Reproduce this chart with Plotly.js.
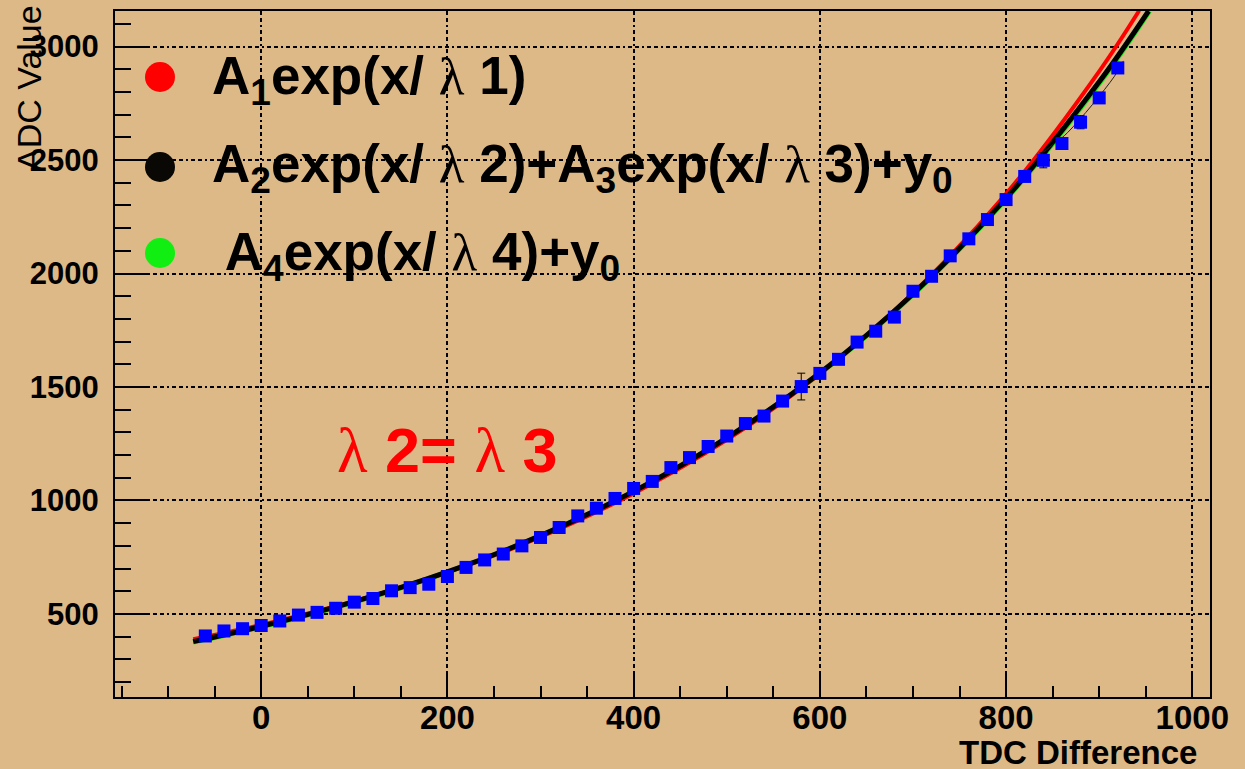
<!DOCTYPE html>
<html>
<head>
<meta charset="utf-8">
<script src="https://cdn.plot.ly/plotly-3.0.1.min.js"></script>
<style>html,body{margin:0;padding:0;background:#ddb987;}</style>
</head>
<body>
<div id="chart" style="width:1245px;height:769px;"></div>
<script>
// ---- data ----
const tdc = [-60,-40,-20,0,20,40,60,80,100,120,140,160,180,200,220,240,260,280,300,320,
             340,360,380,400,420,440,460,480,500,520,540,560,580,600,620,640,660,680,700,720,
             740,760,780,800,820,840,860,880,900,920];
const adc = [403,425,435,449,469,495,507,525,552,568,602,616,631,665,705,738,764,800,837,881,
             932,966,1009,1053,1084,1145,1189,1238,1284,1339,1372,1438,1502,1560,1622,1698,1746,1808,1922,1988,
             2078,2153,2238,2326,2428,2499,2573,2667,2774,2906];
const adcErr = [10,10,10,10,10,10,10,10,10,10,10,10,10,10,10,10,10,10,10,10,
                10,10,10,10,10,10,10,10,10,10,10,10,59,10,10,22,22,10,10,10,
                10,10,10,10,10,33,10,29,10,10];

// fit curves
const fitX1 = [-73,0,100,200,300,400,500,600,700,800,900,943];
const fit1  = [389,452,556,683,839,1031,1267,1558,1914,2351,2891,3159];   // A1 exp(x/λ1)
const fitX2 = [-73,0,100,200,300,400,500,600,700,800,900,953];
const fit2  = [378,445,554,685,845,1040,1276,1562,1910,2332,2845,3157];   // A2exp+A3exp+y0
const fitX4 = [-73,0,100,200,300,400,500,600,700,800,900,954];
const fit4  = [376,443,552,684,844,1039,1275,1560,1907,2328,2838,3157];   // A4exp+y0
const thinX = [800,840,866,916,926];
const thinY = [2340,2532,2621,2867,2937];

const LAM = '<span style="font-family:Liberation Serif, serif;font-weight:normal">λ</span>';
const legendTexts = [
  "A<sub>1</sub>exp(x/ " + LAM + " 1)",
  "A<sub>2</sub>exp(x/ " + LAM + " 2)+A<sub>3</sub>exp(x/ " + LAM + " 3)+y<sub>0</sub>",
  " A<sub>4</sub>exp(x/ " + LAM + " 4)+y<sub>0</sub>"
];
const legendColors = ['#ff0000', '#0a0804', '#11ee11'];
const noteText = LAM + " 2= " + LAM + " 3";
const xTitle = "TDC Difference";
const yTitle = "ADC Value";

// ---- layout helpers (pixel -> paper) ----
const L = 115, R = 1210, T = 11, B = 697;
const px = v => (v - L) / (R - L);
const py = v => (B - v) / (B - T);

const bg = '#ddb987';
const F = 'Liberation Sans, Arial, sans-serif';
const gridDash = '4px,3px,4px,3px,2px,3px';

const traces = [
  {x: fitX4, y: fit4, mode: 'lines', line: {color: '#11ee11', width: 5, shape: 'spline'}, hoverinfo: 'skip'},
  {x: fitX1, y: fit1, mode: 'lines', line: {color: '#ff0000', width: 4, shape: 'spline'}, hoverinfo: 'skip'},
  {x: fitX2, y: fit2, mode: 'lines', line: {color: '#000000', width: 5, shape: 'spline'}, hoverinfo: 'skip'},
  {x: thinX, y: thinY, mode: 'lines', line: {color: '#222', width: 1, shape: 'spline'}, hoverinfo: 'skip'},
  {x: tdc, y: adc, mode: 'markers', type: 'scatter',
   marker: {symbol: 'square', size: 13, color: '#0000ff', line: {width: 0}},
   error_y: {type: 'data', array: adcErr, visible: true, color: '#000', thickness: 1, width: 4}}
];

const annotations = [];
const ys = [80, 167, 256];
const xs = [210, 210, 210];
for (let i = 0; i < legendTexts.length; i++) {
  annotations.push({xref: 'paper', yref: 'paper', x: px(xs[i]), y: py(ys[i]), xanchor: 'left', yanchor: 'middle',
    text: legendTexts[i], showarrow: false, font: {family: F, size: 53, color: '#000', weight: 'bold'}});
}
annotations.push({xref: 'paper', yref: 'paper', x: px(447), y: py(450), xanchor: 'center', yanchor: 'middle',
  text: noteText, showarrow: false, font: {family: F, size: 63, color: '#ff0000', weight: 'bold'}});
annotations.push({xref: 'paper', yref: 'paper', x: px(1199), y: py(752), xanchor: 'right', yanchor: 'middle',
  text: xTitle, showarrow: false, font: {family: F, size: 33, color: '#000', weight: 'bold'}});
annotations.push({xref: 'paper', yref: 'paper', x: px(29), y: py(3), xanchor: 'center', yanchor: 'top',
  textangle: -90, text: yTitle, showarrow: false, font: {family: F, size: 34, color: '#000'}});

const shapes = [];
const cy = [77, 167, 253];
for (let i = 0; i < 3; i++) {
  shapes.push({type: 'circle', xref: 'paper', yref: 'paper', xsizemode: 'pixel', ysizemode: 'pixel',
    xanchor: px(160), yanchor: py(cy[i]), x0: -15, x1: 15, y0: -15, y1: 15,
    fillcolor: legendColors[i], line: {width: 0}});
}

const layout = {
  width: 1245, height: 769,
  margin: {l: L, r: 1245 - R, t: T, b: 769 - B, pad: 0},
  paper_bgcolor: bg, plot_bgcolor: bg,
  showlegend: false,
  font: {family: F, color: '#000'},
  xaxis: {
    range: [-157, 1019], tickvals: [0, 200, 400, 600, 800, 1000],
    showline: true, linecolor: '#000', linewidth: 2, mirror: true,
    ticks: 'inside', ticklen: 24, tickwidth: 2, tickcolor: '#000',
    minor: {ticks: 'inside', ticklen: 11, tickwidth: 2, tickcolor: '#000', dtick: 50, tick0: 0, showgrid: false},
    showgrid: true, gridcolor: '#000', gridwidth: 2, griddash: gridDash,
    zeroline: false, tickfont: {family: F, size: 33, color: '#000', weight: 'bold'}, ticklabelstandoff: -10
  },
  yaxis: {
    range: [134, 3157], tickvals: [500, 1000, 1500, 2000, 2500, 3000],
    showline: true, linecolor: '#000', linewidth: 2, mirror: true,
    ticks: 'inside', ticklen: 33, tickwidth: 2, tickcolor: '#000',
    minor: {ticks: 'inside', ticklen: 16, tickwidth: 2, tickcolor: '#000', dtick: 100, tick0: 0, showgrid: false},
    showgrid: true, gridcolor: '#000', gridwidth: 2, griddash: gridDash,
    zeroline: false, tickfont: {family: F, size: 31, color: '#000', weight: 'bold'}, ticklabelstandoff: 8
  },
  annotations: annotations,
  shapes: shapes
};

Plotly.newPlot('chart', traces, layout, {displayModeBar: false, staticPlot: true});
</script>
</body>
</html>
